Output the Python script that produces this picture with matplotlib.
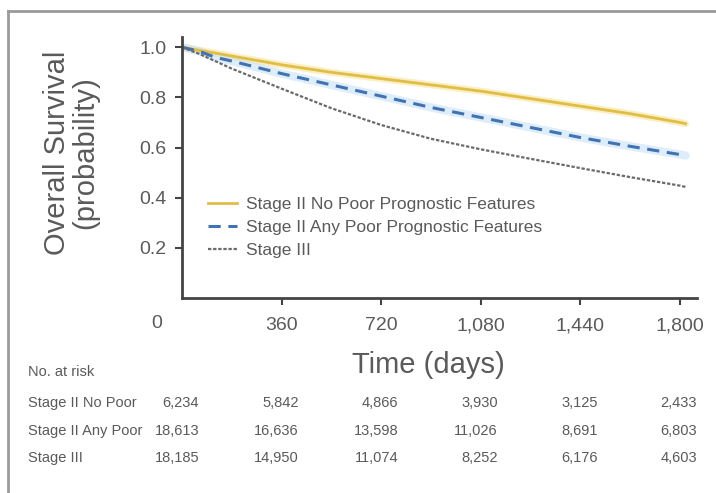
import matplotlib.pyplot as plt
from matplotlib.lines import Line2D
from matplotlib import transforms

plt.rcParams['font.family'] = ['Liberation Sans', 'DejaVu Sans']

# survival estimates (days -> probability)
days = [0, 60, 120, 180, 360, 540, 720, 900, 1080, 1260, 1440, 1620, 1800, 1820]
no_poor = [1.0, 0.988, 0.977, 0.965, 0.93, 0.90, 0.875, 0.85, 0.825, 0.795, 0.765, 0.735, 0.70, 0.695]
any_poor = [1.0, 0.985, 0.96, 0.945, 0.895, 0.85, 0.805, 0.76, 0.72, 0.68, 0.64, 0.605, 0.572, 0.568]
stage3 = [1.0, 0.975, 0.945, 0.915, 0.835, 0.757, 0.69, 0.635, 0.593, 0.555, 0.518, 0.482, 0.448, 0.443]

labels = ['Stage II No Poor Prognostic Features',
          'Stage II Any Poor Prognostic Features',
          'Stage III']

# number at risk table
risk_days = [0, 360, 720, 1080, 1440, 1800]
risk_rows = ['Stage II No Poor', 'Stage II Any Poor', 'Stage III']
risk_counts = [
    ['6,234', '5,842', '4,866', '3,930', '3,125', '2,433'],
    ['18,613', '16,636', '13,598', '11,026', '8,691', '6,803'],
    ['18,185', '14,950', '11,074', '8,252', '6,176', '4,603'],
]

txt = '#5a5a5a'
axc = '#444444'

fig = plt.figure(figsize=(7.16, 4.93), dpi=100)
ax = fig.add_axes([0.254, 0.3955, 0.719, 0.529])

# soft halos under the coloured curves
ax.plot(days, no_poor, color='#f3dc7a', lw=5, alpha=0.45, solid_capstyle='round')
ax.plot(days, any_poor, color='#bcdcf5', lw=6, alpha=0.5, solid_capstyle='round')
ax.plot(days, no_poor, color='#e0bd45', lw=2, label=labels[0])
ax.plot(days, any_poor, color='#4173b3', lw=2.2, ls=(0, (4, 2.5)), label=labels[1])
ax.plot(days, stage3, color='#6a6a6a', lw=1.6, ls=(0, (1.5, 0.8)), label=labels[2])

ax.set_xlim(0, 1860)
ax.set_ylim(0, 1.04)
ax.set_xticks(risk_days[1:])
ax.set_xticklabels(['360', '720', '1,080', '1,440', '1,800'])
ax.set_yticks([0.2, 0.4, 0.6, 0.8, 1.0])
ax.set_yticklabels(['0.2', '0.4', '0.6', '0.8', '1.0'])
ax.tick_params(colors=axc, labelcolor=txt, labelsize=14, width=1.5, length=5, pad=6)
ax.tick_params(axis='x', pad=9)
for side in ['top', 'right']:
    ax.spines[side].set_visible(False)
for side in ['left', 'bottom']:
    ax.spines[side].set_color(axc)
    ax.spines[side].set_linewidth(2)

# the origin label sits left of the y axis
ax.text(-90, -0.1, '0', transform=ax.transData, ha='center', va='center',
        fontsize=14, color=txt)

fig.text(0.099, 0.69, 'Overall Survival\n(probability)', rotation=90,
         ha='center', va='center', fontsize=21, color=txt, linespacing=1.0,
         multialignment='center')
fig.text(0.598, 0.26, 'Time (days)', ha='center', va='center', fontsize=21, color=txt)

leg = ax.legend(loc='lower left', bbox_to_anchor=(0.02, 0.095), frameon=False,
                fontsize=12.5, handlelength=1.7, labelspacing=0.45,
                handletextpad=0.5)
for t in leg.get_texts():
    t.set_color(txt)

# number at risk
blend = transforms.blended_transform_factory(ax.transData, fig.transFigure)
fig.text(0.039, 0.245, 'No. at risk', fontsize=10.5, color=txt, va='center')
row_y = [0.183, 0.126, 0.071]
for name, counts, y in zip(risk_rows, risk_counts, row_y):
    fig.text(0.039, y, name, fontsize=10.5, color=txt, va='center')
    for d, c in zip(risk_days, counts):
        ax.text(d + 62, y, c, transform=blend, ha='right', va='center',
                fontsize=10.5, color=txt)

# outer frame
fig.add_artist(Line2D([0.011, 1.0], [0.978, 0.978], transform=fig.transFigure,
                      color='#9a9a9a', lw=2))
fig.add_artist(Line2D([0.011, 0.011], [0.0, 0.978], transform=fig.transFigure,
                      color='#9a9a9a', lw=2))

fig.savefig('out.png', dpi=100)
